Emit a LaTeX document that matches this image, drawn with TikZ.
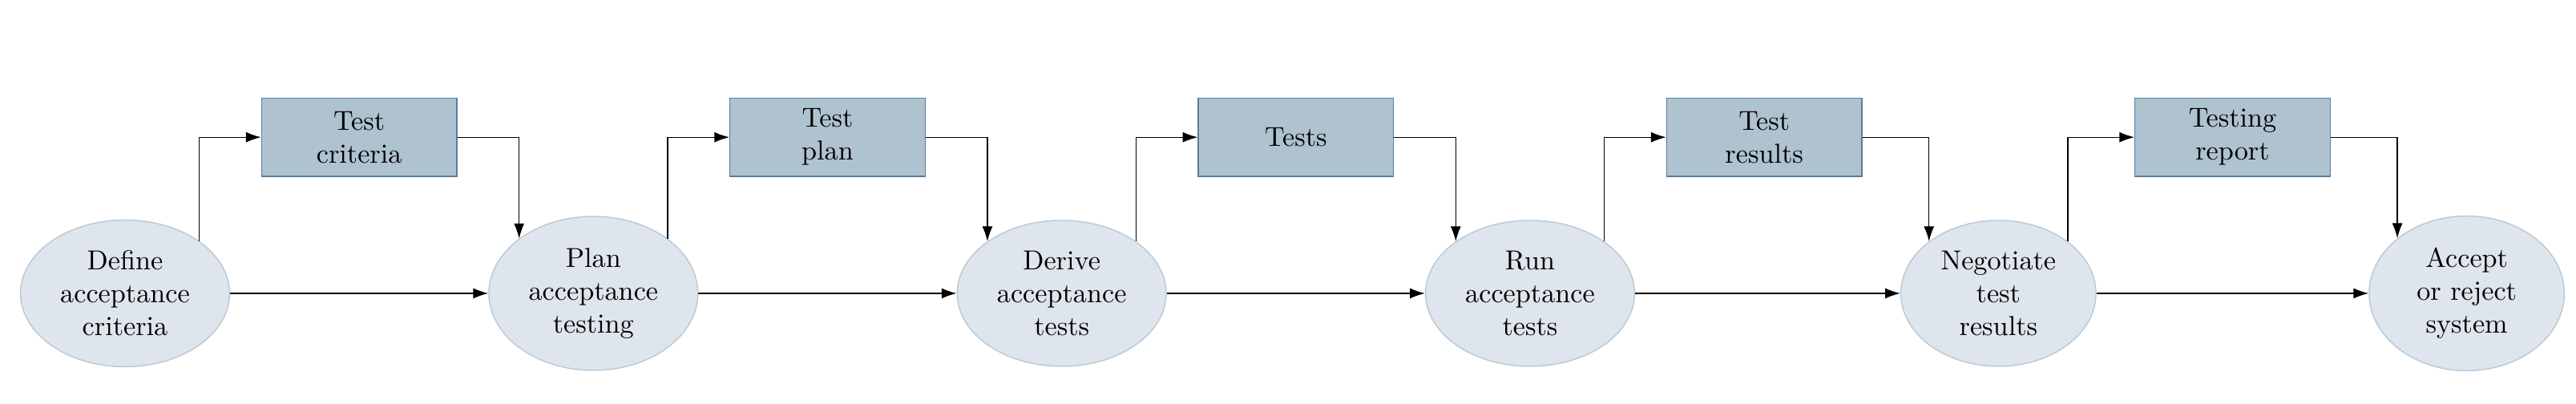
\documentclass[tikz,border=0pt]{standalone}
\usepackage{amsmath}
\usepackage{tikz}
\usetikzlibrary{shapes.geometric,arrows.meta}
\definecolor{actfill}{HTML}{DEE5EC}
\definecolor{actline}{HTML}{B7C8D4}
\definecolor{docfill}{HTML}{AEC2D0}
\definecolor{docline}{HTML}{5B7C99}

\begin{document}
\begin{tikzpicture}[activity/.style={shape=ellipse,draw=actline,fill=actfill,align=center,minimum width=2.5cm},
	document/.style={shape=rectangle,draw=docline,fill=docfill,align=center,minimum width=2.5cm,minimum height=1cm},
	>={Latex[length=5.5pt,width=3.8pt]}]
	\useasboundingbox (-1.602, -1.417) rectangle (31.40, 3.758);
	\node[activity] (define)    at (0, 0)  {Define\\acceptance\\criteria};
	\node[activity] (plan)      at (6, 0)  {Plan\\acceptance\\testing};
	\node[activity] (derive)    at (12, 0) {Derive\\acceptance\\tests};
	\node[activity] (run)       at (18, 0) {Run\\acceptance\\tests};
	\node[activity] (negotiate) at (24, 0) {Negotiate\\test\\results};
	\node[activity] (accept)    at (30, 0) {Accept\\or reject\\system};
	\node[document] (criteria)  at (3, 2)  {Test\\criteria};
	\node[document] (testplan)  at (9, 2)  {Test\\plan};
	\node[document] (tests)     at (15, 2) {Tests};
	\node[document] (results)   at (21, 2) {Test\\results};
	\node[document] (report)    at (27, 2) {Testing\\report};
    \path[->] (define) edge (plan);
    \path[->] (plan) edge (derive);
    \path[->] (derive) edge (run);
    \path[->] (run) edge (negotiate);
    \path[->] (negotiate) edge (accept);
    \draw[->] (define.north east) |- (criteria.west);
    \draw[->] (criteria.east) -| (plan.north west);
    \draw[->] (plan.north east) |- (testplan.west);
    \draw[->] (testplan.east) -| (derive.north west);
    \draw[->] (derive.north east) |- (tests.west);
    \draw[->] (tests.east) -| (run.north west);
    \draw[->] (run.north east) |- (results.west);
    \draw[->] (results.east) -| (negotiate.north west);
    \draw[->] (negotiate.north east) |- (report.west);
    \draw[->] (report.east) -| (accept.north west);
\end{tikzpicture}
\end{document}
